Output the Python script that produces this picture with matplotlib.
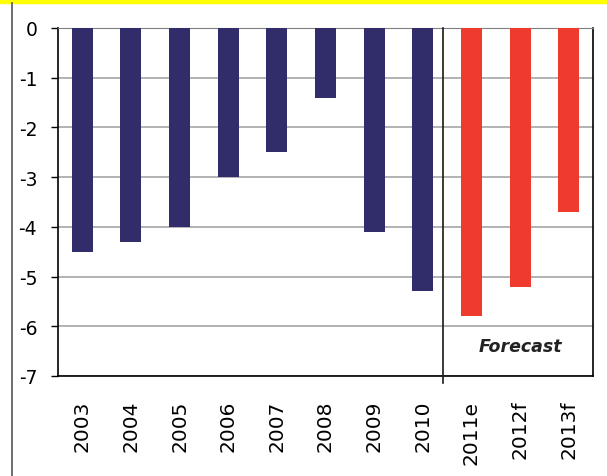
import matplotlib.pyplot as plt
from matplotlib.lines import Line2D
from matplotlib.patches import Rectangle

# Data
years = ['2003', '2004', '2005', '2006', '2007', '2008', '2009', '2010']
actual = [-4.5, -4.3, -4.0, -3.0, -2.5, -1.4, -4.1, -5.3]
forecast_years = ['2011e', '2012f', '2013f']
forecast = [-5.8, -5.2, -3.7]

navy = '#312c6a'
red = '#ee3a2f'

fig = plt.figure(figsize=(6.07, 4.77), dpi=100)
ax = fig.add_axes([58 / 607, 100 / 477, 535 / 607, 348 / 477])

labels = years + forecast_years
x = list(range(len(labels)))
ax.bar(x[:len(years)], actual, width=0.43, color=navy, zorder=3)
ax.bar(x[len(years):], forecast, width=0.43, color=red, zorder=3)

ax.set_xlim(-0.5, len(labels) - 0.5)
ax.set_ylim(-7, 0)
ax.set_yticks(range(-7, 1))
ax.set_yticklabels([str(v) for v in range(-7, 1)], fontsize=13.5)
ax.yaxis.grid(True, color='#a6a6a6', linewidth=1.2, zorder=0)

ax.set_xticks(x)
ax.set_xticklabels(labels, rotation=90, fontsize=14.5)
ax.tick_params(axis='x', length=0, pad=17)
ax.tick_params(axis='y', length=5, width=1, pad=10)

for side in ['left', 'bottom', 'right']:
    ax.spines[side].set_color('black')
    ax.spines[side].set_linewidth(1.2)
ax.spines['top'].set_color('#808080')

# forecast divider
sep = len(years) - 0.58
ax.plot([sep, sep], [0, -7.15], color='#1a1a1a', linewidth=1.2, clip_on=False, zorder=4)
ax.text(9, -6.4, 'Forecast', fontsize=12.5, fontweight='bold', fontstyle='italic',
        ha='center', va='center', color='#222222')

# yellow title strip and left rule
fig.patches.append(Rectangle((0, 1 - 4 / 477), 1, 4 / 477, transform=fig.transFigure,
                             color='#ffff00', zorder=0))
fig.lines.append(Line2D([12 / 607, 12 / 607], [0, 1 - 4 / 477], transform=fig.transFigure,
                        color='#555555', linewidth=1.2))

fig.savefig('out.png', dpi=100)
